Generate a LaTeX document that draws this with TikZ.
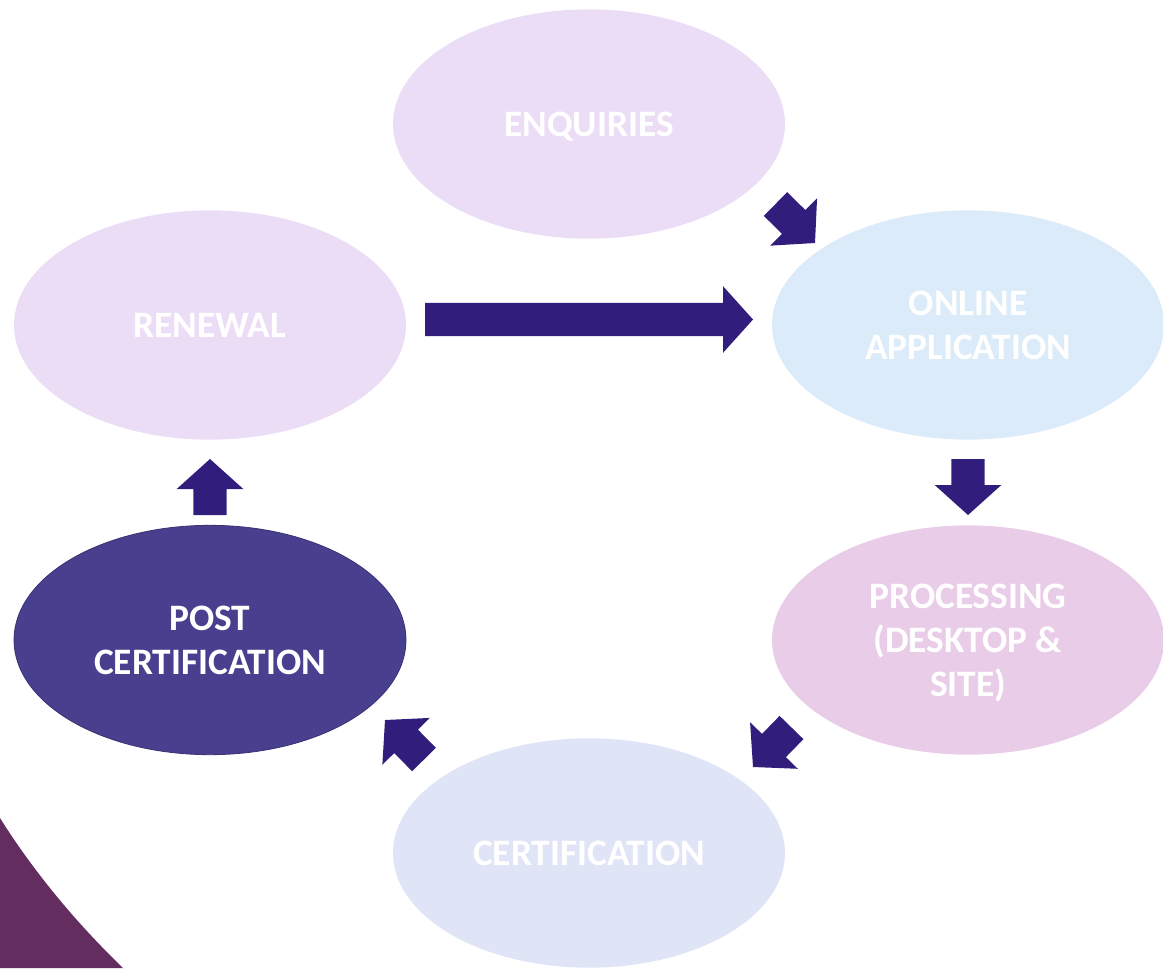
\documentclass[tikz,border=0pt]{standalone}
\usepackage{fontspec}
\setmainfont{Carlito}
\usetikzlibrary{shapes.geometric,calc}
\definecolor{arrowcol}{HTML}{311E7C}
\definecolor{lavender}{HTML}{EBDDF6}
\definecolor{lightblue}{HTML}{DCEBF9}
\definecolor{pinkish}{HTML}{E9CCE8}
\definecolor{paleblue}{HTML}{DFE5F7}
\definecolor{deepviolet}{HTML}{483F8E}
\definecolor{plum}{HTML}{642D5F}
\tikzset{
  stage/.style={ellipse, inner sep=0pt, minimum width=294pt, minimum height=172pt,
    text=white, align=center, text depth=0pt, font=\fontsize{28}{33}\selectfont\bfseries},
}
\newcommand\blockarrow[2]{%
  \coordinate (hb) at ($(#2)!22.5pt!(#1)$);
  \fill[arrowcol] ($(#1)!12.5pt!90:(#2)$) -- ($(hb)!12.5pt!90:(#2)$) -- ($(hb)!25pt!90:(#2)$)
    -- (#2) -- ($(hb)!25pt!-90:(#2)$) -- ($(hb)!12.5pt!-90:(#2)$) -- ($(#1)!12.5pt!-90:(#2)$) -- cycle;
}
\begin{document}
\begin{tikzpicture}[x=0.75pt,y=-0.75pt]
\useasboundingbox (0,0) rectangle (1163,968);
\clip (0,0) rectangle (1163,968);
\fill[plum] (0,818) .. controls (25,858) and (65,912) .. (123,968) -- (0,968) -- cycle;

\node[stage, fill=lavender] (enq) at (589,124) {ENQUIRIES};
\node[stage, fill=lavender] (ren) at (210,325) {RENEWAL};
\node[stage, fill=lightblue] (onl) at (968,325) {ONLINE\\APPLICATION};
\node[stage, fill=pinkish] (pro) at (968,640) {PROCESSING\\(DESKTOP \&\\SITE)};
\node[stage, fill=paleblue] (cer) at (589,853) {CERTIFICATION};
\node[stage, fill=deepviolet, draw=deepviolet!80!black, line width=0.6pt] (pos) at (210,640) {POST\\CERTIFICATION};

\coordinate (a1t) at (775.5,204);  \coordinate (a1p) at (815,243);
\coordinate (a2t) at (425,319.5);  \coordinate (a2p) at (753,319.5);
\coordinate (a3t) at (968,459);    \coordinate (a3p) at (968,515);
\coordinate (a4t) at (791.5,727.5);\coordinate (a4p) at (753,767);
\coordinate (a5t) at (424,759.5);  \coordinate (a5p) at (385,720);
\coordinate (a6t) at (210,515);    \coordinate (a6p) at (210,459);
\blockarrow{a1t}{a1p}
\blockarrow{a2t}{a2p}
\blockarrow{a3t}{a3p}
\blockarrow{a4t}{a4p}
\blockarrow{a5t}{a5p}
\blockarrow{a6t}{a6p}
\end{tikzpicture}
\end{document}
